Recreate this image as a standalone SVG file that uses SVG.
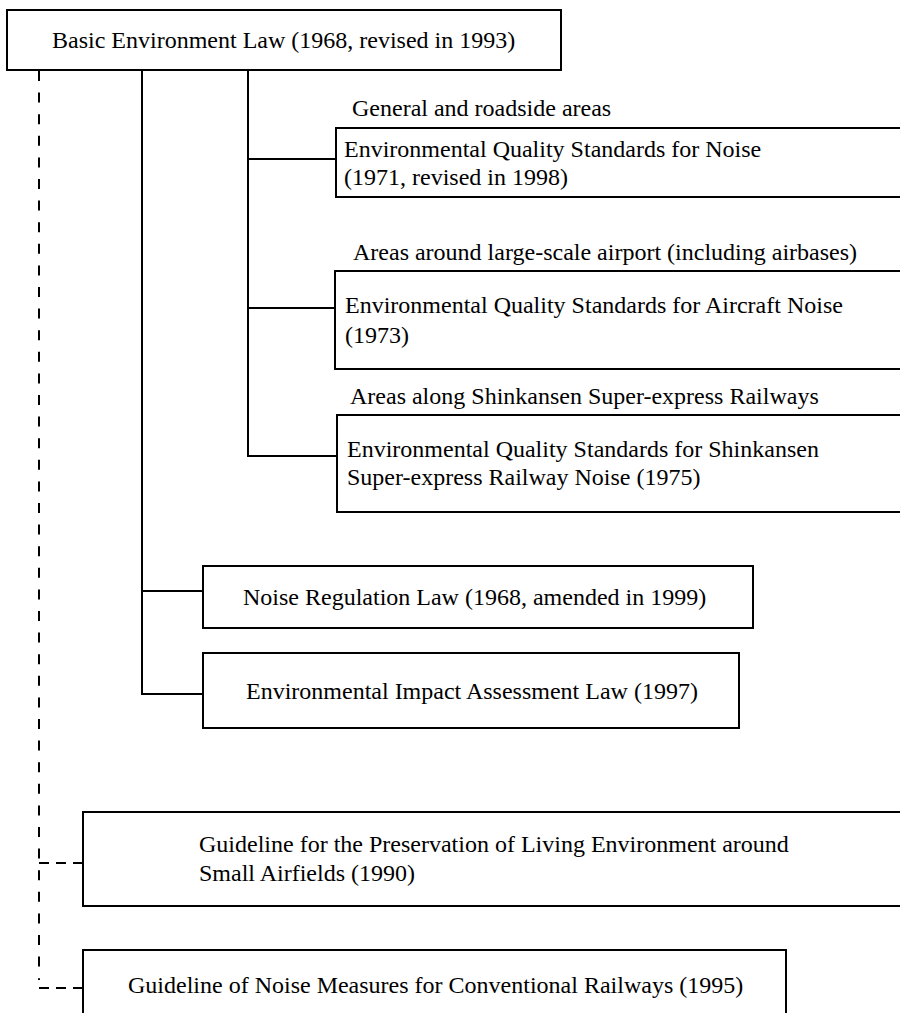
<svg xmlns="http://www.w3.org/2000/svg" width="900" height="1013" viewBox="0 0 900 1013">
<style>
  .box { fill: #ffffff; stroke: #000000; stroke-width: 2; }
  text { font-family: 'Liberation Serif', 'Times New Roman', Times, 'DejaVu Serif', serif; font-size: 24px; fill: #000000; }
  .solid { fill: none; stroke: #000000; stroke-width: 2; }
  .dash { fill: none; stroke: #000000; stroke-width: 2; stroke-dasharray: 10 11.6; }
  .dashh { fill: none; stroke: #000000; stroke-width: 2; stroke-dasharray: 10 7; }
</style>
<rect width="900" height="1013" fill="#ffffff"/>
<g id="connectors">
  <line class="dash" x1="39" y1="71" x2="39" y2="980"/>
  <line class="dashh" x1="39" y1="863" x2="83" y2="863"/>
  <line class="dashh" x1="39" y1="988" x2="83" y2="988"/>
  <polyline class="solid" points="142,70 142,694 203,694"/>
  <line class="solid" x1="142" y1="591" x2="203" y2="591"/>
  <polyline class="solid" points="248,70 248,456 337,456"/>
  <line class="solid" x1="248" y1="159" x2="336" y2="159"/>
  <line class="solid" x1="248" y1="308" x2="335" y2="308"/>
</g>
<g id="basic-law">
  <rect class="box" x="7" y="10" width="554" height="60"/>
  <text x="52" y="48" font-family="Liberation Serif, serif">Basic Environment Law (1968, revised in 1993)</text>
</g>
<g id="label-general">
  <text x="352" y="116" font-family="Liberation Serif, serif">General and roadside areas</text>
</g>
<g id="eqs-noise">
  <rect class="box" x="336" y="128" width="580" height="69"/>
  <text x="344" y="157" font-family="Liberation Serif, serif">Environmental Quality Standards for Noise</text>
  <text x="344" y="185" font-family="Liberation Serif, serif">(1971, revised in 1998)</text>
</g>
<g id="label-airport">
  <text x="353" y="260" font-family="Liberation Serif, serif">Areas around large-scale airport (including airbases)</text>
</g>
<g id="eqs-aircraft">
  <rect class="box" x="335" y="271" width="580" height="98"/>
  <text x="345" y="313" font-family="Liberation Serif, serif">Environmental Quality Standards for Aircraft Noise</text>
  <text x="345" y="343" font-family="Liberation Serif, serif">(1973)</text>
</g>
<g id="label-shinkansen">
  <text x="350" y="404" font-family="Liberation Serif, serif">Areas along Shinkansen Super-express Railways</text>
</g>
<g id="eqs-shinkansen">
  <rect class="box" x="337" y="415" width="580" height="97"/>
  <text x="347" y="457" font-family="Liberation Serif, serif">Environmental Quality Standards for Shinkansen</text>
  <text x="347" y="485" font-family="Liberation Serif, serif">Super-express Railway Noise (1975)</text>
</g>
<g id="noise-regulation">
  <rect class="box" x="203" y="566" width="550" height="62"/>
  <text x="243" y="605" font-family="Liberation Serif, serif">Noise Regulation Law (1968, amended in 1999)</text>
</g>
<g id="eia-law">
  <rect class="box" x="203" y="653" width="536" height="75"/>
  <text x="246" y="699" font-family="Liberation Serif, serif">Environmental Impact Assessment Law (1997)</text>
</g>
<g id="guideline-airfields">
  <rect class="box" x="83" y="812" width="830" height="94"/>
  <text x="199" y="852" font-family="Liberation Serif, serif">Guideline for the Preservation of Living Environment around</text>
  <text x="199" y="881" font-family="Liberation Serif, serif">Small Airfields (1990)</text>
</g>
<g id="guideline-railways">
  <rect class="box" x="83" y="950" width="703" height="80"/>
  <text x="128" y="993" font-family="Liberation Serif, serif">Guideline of Noise Measures for Conventional Railways (1995)</text>
</g>
</svg>
